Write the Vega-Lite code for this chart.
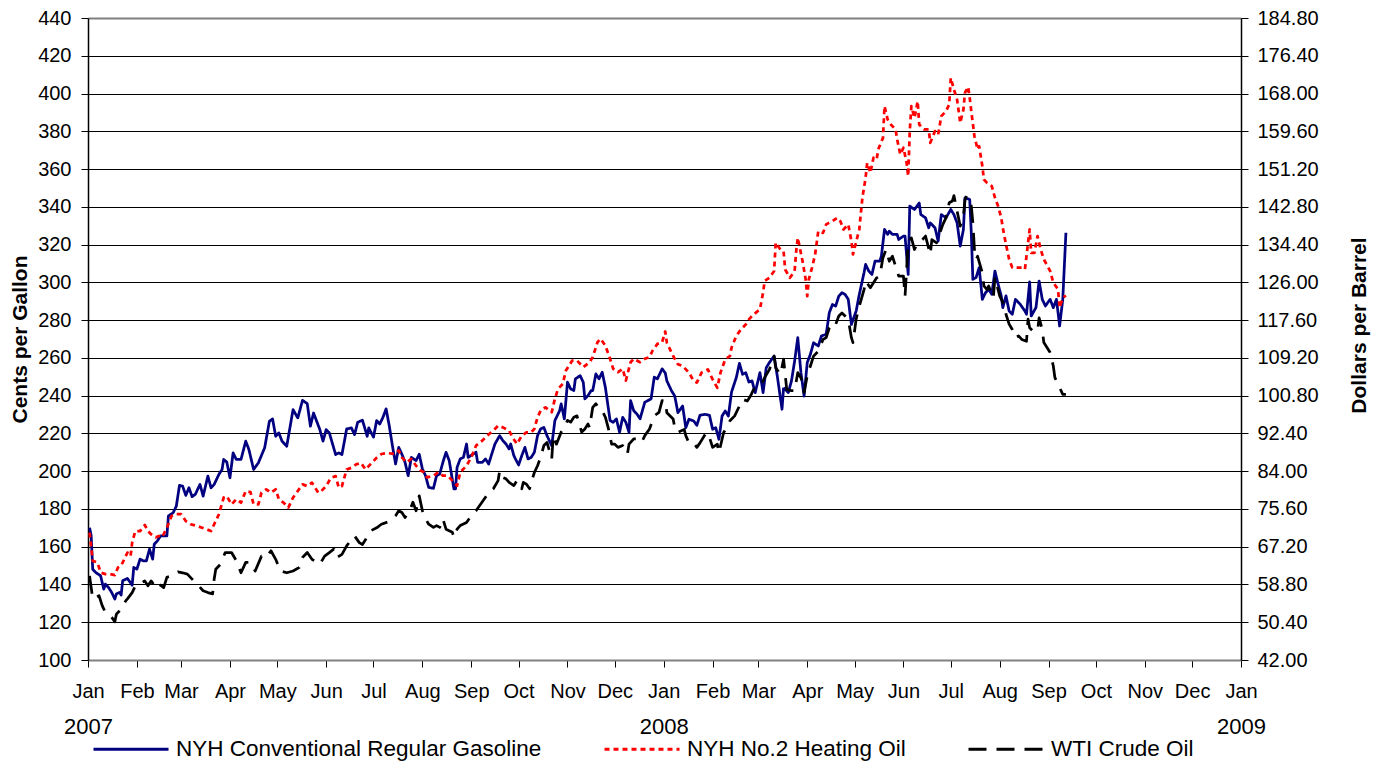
{
"$schema":"https://vega.github.io/schema/vega-lite/v6.json",
"width":1153,"height":642,
"autosize":{"type":"none"},
"padding":{"left":88,"top":18,"right":140,"bottom":104},
"background":"white",
"config":{"font":"Liberation Sans","view":{"stroke":null},
"axis":{"labelFont":"Liberation Sans","titleFont":"Liberation Sans","labelColor":"#000","titleColor":"#000","tickColor":"#000","domainColor":"#000","labelFontSize":20,"titleFontSize":21,"titleFontWeight":"bold"},
"legend":{"labelFont":"Liberation Sans","labelFontSize":22.5,"labelColor":"#000","labelLimit":600,"symbolType":"stroke","symbolSize":5625,"symbolStrokeWidth":3,"columnPadding":56,"labelOffset":6,"padding":0}},
"data":{"values":[
{"d":"2007-01-02","s":"G","v":170},{"d":"2007-01-03","s":"G","v":166},{"d":"2007-01-04","s":"G","v":148},{"d":"2007-01-06","s":"G","v":146.3},{"d":"2007-01-09","s":"G","v":144.6},{"d":"2007-01-11","s":"G","v":137.5},{"d":"2007-01-12","s":"G","v":140.2},{"d":"2007-01-14","s":"G","v":138.4},{"d":"2007-01-16","s":"G","v":135.8},{"d":"2007-01-18","s":"G","v":132.3},{"d":"2007-01-19","s":"G","v":135},{"d":"2007-01-21","s":"G","v":135.8},{"d":"2007-01-22","s":"G","v":134.4},{"d":"2007-01-23","s":"G","v":142},{"d":"2007-01-26","s":"G","v":143.2},{"d":"2007-01-27","s":"G","v":142},{"d":"2007-01-29","s":"G","v":139.6},{"d":"2007-01-30","s":"G","v":149},
{"d":"2007-02-01","s":"G","v":148.1},{"d":"2007-02-03","s":"G","v":153.4},{"d":"2007-02-05","s":"G","v":152.5},{"d":"2007-02-07","s":"G","v":152.5},{"d":"2007-02-09","s":"G","v":158.7},{"d":"2007-02-11","s":"G","v":153.4},{"d":"2007-02-12","s":"G","v":161.3},{"d":"2007-02-14","s":"G","v":163.1},{"d":"2007-02-16","s":"G","v":165.7},{"d":"2007-02-20","s":"G","v":165.7},{"d":"2007-02-21","s":"G","v":176.3},{"d":"2007-02-24","s":"G","v":178},{"d":"2007-02-26","s":"G","v":181.5},{"d":"2007-02-28","s":"G","v":192.5},
{"d":"2007-03-02","s":"G","v":192.1},{"d":"2007-03-04","s":"G","v":187.2},{"d":"2007-03-06","s":"G","v":191.2},{"d":"2007-03-08","s":"G","v":186.5},{"d":"2007-03-10","s":"G","v":187.7},{"d":"2007-03-13","s":"G","v":193},{"d":"2007-03-15","s":"G","v":186.8},{"d":"2007-03-18","s":"G","v":197.4},{"d":"2007-03-20","s":"G","v":191.2},{"d":"2007-03-22","s":"G","v":193},{"d":"2007-03-25","s":"G","v":198.3},{"d":"2007-03-27","s":"G","v":200.9},{"d":"2007-03-28","s":"G","v":206.2},{"d":"2007-03-30","s":"G","v":204.8},
{"d":"2007-04-01","s":"G","v":196.5},{"d":"2007-04-03","s":"G","v":209.7},{"d":"2007-04-05","s":"G","v":206.2},{"d":"2007-04-08","s":"G","v":206.2},{"d":"2007-04-11","s":"G","v":215.9},{"d":"2007-04-13","s":"G","v":211.5},{"d":"2007-04-16","s":"G","v":200.9},{"d":"2007-04-19","s":"G","v":204.4},{"d":"2007-04-23","s":"G","v":212.4},{"d":"2007-04-26","s":"G","v":226.4},{"d":"2007-04-28","s":"G","v":227.7},{"d":"2007-04-30","s":"G","v":218.5},
{"d":"2007-05-02","s":"G","v":220.3},{"d":"2007-05-04","s":"G","v":215.9},{"d":"2007-05-07","s":"G","v":213.2},{"d":"2007-05-11","s":"G","v":232.6},{"d":"2007-05-14","s":"G","v":228.2},{"d":"2007-05-17","s":"G","v":237.5},{"d":"2007-05-20","s":"G","v":235.8},{"d":"2007-05-22","s":"G","v":223.8},{"d":"2007-05-24","s":"G","v":230.8},{"d":"2007-05-28","s":"G","v":222},{"d":"2007-05-30","s":"G","v":215.9},
{"d":"2007-06-01","s":"G","v":222},{"d":"2007-06-03","s":"G","v":220.3},{"d":"2007-06-07","s":"G","v":208.8},{"d":"2007-06-09","s":"G","v":209.7},{"d":"2007-06-11","s":"G","v":208.8},{"d":"2007-06-14","s":"G","v":222.4},{"d":"2007-06-17","s":"G","v":222.9},{"d":"2007-06-19","s":"G","v":219.4},{"d":"2007-06-21","s":"G","v":225.9},{"d":"2007-06-24","s":"G","v":227},{"d":"2007-06-27","s":"G","v":218.5},{"d":"2007-06-28","s":"G","v":222.9},
{"d":"2007-07-01","s":"G","v":218},{"d":"2007-07-03","s":"G","v":226.8},{"d":"2007-07-05","s":"G","v":225},{"d":"2007-07-07","s":"G","v":228.5},{"d":"2007-07-09","s":"G","v":233},{"d":"2007-07-11","s":"G","v":224},{"d":"2007-07-13","s":"G","v":213.5},{"d":"2007-07-15","s":"G","v":203.8},{"d":"2007-07-17","s":"G","v":212.6},{"d":"2007-07-19","s":"G","v":209},{"d":"2007-07-21","s":"G","v":204.7},{"d":"2007-07-23","s":"G","v":197.6},{"d":"2007-07-25","s":"G","v":207.3},{"d":"2007-07-28","s":"G","v":205.6},{"d":"2007-07-30","s":"G","v":209},
{"d":"2007-08-01","s":"G","v":201.2},{"d":"2007-08-03","s":"G","v":197.6},{"d":"2007-08-05","s":"G","v":191.4},{"d":"2007-08-08","s":"G","v":190.9},{"d":"2007-08-10","s":"G","v":197.6},{"d":"2007-08-12","s":"G","v":198.5},{"d":"2007-08-14","s":"G","v":204.7},{"d":"2007-08-16","s":"G","v":210},{"d":"2007-08-18","s":"G","v":205.6},{"d":"2007-08-21","s":"G","v":190.6},{"d":"2007-08-22","s":"G","v":190.6},{"d":"2007-08-23","s":"G","v":202},{"d":"2007-08-25","s":"G","v":206.5},{"d":"2007-08-27","s":"G","v":207.3},{"d":"2007-08-29","s":"G","v":214.4},{"d":"2007-08-30","s":"G","v":207.3},
{"d":"2007-09-02","s":"G","v":209},{"d":"2007-09-04","s":"G","v":210},{"d":"2007-09-05","s":"G","v":204.7},{"d":"2007-09-08","s":"G","v":204.7},{"d":"2007-09-10","s":"G","v":206.5},{"d":"2007-09-12","s":"G","v":203.8},{"d":"2007-09-15","s":"G","v":211.8},{"d":"2007-09-16","s":"G","v":214.4},{"d":"2007-09-19","s":"G","v":218.8},{"d":"2007-09-21","s":"G","v":216.2},{"d":"2007-09-23","s":"G","v":214.4},{"d":"2007-09-25","s":"G","v":211.8},{"d":"2007-09-26","s":"G","v":214.4},{"d":"2007-09-28","s":"G","v":208.2},{"d":"2007-09-29","s":"G","v":206.5},
{"d":"2007-10-01","s":"G","v":203.3},{"d":"2007-10-03","s":"G","v":208.2},{"d":"2007-10-05","s":"G","v":212.6},{"d":"2007-10-07","s":"G","v":206.5},{"d":"2007-10-09","s":"G","v":207.3},{"d":"2007-10-11","s":"G","v":210},{"d":"2007-10-13","s":"G","v":218.8},{"d":"2007-10-15","s":"G","v":222.4},{"d":"2007-10-17","s":"G","v":223.2},{"d":"2007-10-19","s":"G","v":218.8},{"d":"2007-10-22","s":"G","v":213.5},{"d":"2007-10-24","s":"G","v":226.8},{"d":"2007-10-27","s":"G","v":232},{"d":"2007-10-28","s":"G","v":235.6},{"d":"2007-10-30","s":"G","v":227.7},
{"d":"2007-11-01","s":"G","v":247.1},{"d":"2007-11-03","s":"G","v":243.6},{"d":"2007-11-05","s":"G","v":242.7},{"d":"2007-11-06","s":"G","v":248.9},{"d":"2007-11-09","s":"G","v":250.6},{"d":"2007-11-11","s":"G","v":247.1},{"d":"2007-11-12","s":"G","v":238.3},{"d":"2007-11-14","s":"G","v":240},{"d":"2007-11-16","s":"G","v":242.7},{"d":"2007-11-17","s":"G","v":242.7},{"d":"2007-11-19","s":"G","v":251.5},{"d":"2007-11-21","s":"G","v":248.9},{"d":"2007-11-23","s":"G","v":252.4},{"d":"2007-11-25","s":"G","v":244.4},{"d":"2007-11-28","s":"G","v":226.8},{"d":"2007-11-30","s":"G","v":225.9},
{"d":"2007-12-02","s":"G","v":227.7},{"d":"2007-12-04","s":"G","v":220.6},{"d":"2007-12-06","s":"G","v":228.5},{"d":"2007-12-08","s":"G","v":225.9},{"d":"2007-12-10","s":"G","v":220.6},{"d":"2007-12-11","s":"G","v":237.4},{"d":"2007-12-13","s":"G","v":232},{"d":"2007-12-15","s":"G","v":230.3},{"d":"2007-12-17","s":"G","v":227.7},{"d":"2007-12-20","s":"G","v":236.5},{"d":"2007-12-22","s":"G","v":237.4},{"d":"2007-12-24","s":"G","v":238.3},{"d":"2007-12-26","s":"G","v":249.8},{"d":"2007-12-28","s":"G","v":248.9},{"d":"2007-12-31","s":"G","v":254.2},
{"d":"2008-01-02","s":"G","v":252},{"d":"2008-01-03","s":"G","v":247.8},{"d":"2008-01-06","s":"G","v":242.5},{"d":"2008-01-08","s":"G","v":239.8},{"d":"2008-01-10","s":"G","v":231},{"d":"2008-01-13","s":"G","v":234.5},{"d":"2008-01-15","s":"G","v":223},{"d":"2008-01-17","s":"G","v":227.5},{"d":"2008-01-20","s":"G","v":226.6},{"d":"2008-01-22","s":"G","v":224.3},{"d":"2008-01-24","s":"G","v":229.6},{"d":"2008-01-27","s":"G","v":230.1},{"d":"2008-01-30","s":"G","v":229.6},
{"d":"2008-02-01","s":"G","v":222.2},{"d":"2008-02-03","s":"G","v":223},{"d":"2008-02-05","s":"G","v":216.9},{"d":"2008-02-07","s":"G","v":229.2},{"d":"2008-02-09","s":"G","v":231.9},{"d":"2008-02-11","s":"G","v":229.2},{"d":"2008-02-13","s":"G","v":241.9},{"d":"2008-02-16","s":"G","v":249.5},{"d":"2008-02-18","s":"G","v":257.1},{"d":"2008-02-20","s":"G","v":251.3},{"d":"2008-02-22","s":"G","v":252.2},{"d":"2008-02-24","s":"G","v":247.2},{"d":"2008-02-26","s":"G","v":247.8},{"d":"2008-02-28","s":"G","v":241.6},
{"d":"2008-03-02","s":"G","v":252.2},{"d":"2008-03-04","s":"G","v":241.6},{"d":"2008-03-06","s":"G","v":254.8},{"d":"2008-03-08","s":"G","v":257.5},{"d":"2008-03-11","s":"G","v":261},{"d":"2008-03-13","s":"G","v":250.4},{"d":"2008-03-16","s":"G","v":232.8},{"d":"2008-03-17","s":"G","v":244.2},{"d":"2008-03-20","s":"G","v":241.6},{"d":"2008-03-22","s":"G","v":247.8},{"d":"2008-03-24","s":"G","v":258.3},{"d":"2008-03-26","s":"G","v":270.7},{"d":"2008-03-28","s":"G","v":252.2},{"d":"2008-03-30","s":"G","v":239.8},
{"d":"2008-04-01","s":"G","v":257.5},{"d":"2008-04-03","s":"G","v":261.9},{"d":"2008-04-05","s":"G","v":268},{"d":"2008-04-08","s":"G","v":266.3},{"d":"2008-04-10","s":"G","v":271.6},{"d":"2008-04-13","s":"G","v":272.5},{"d":"2008-04-15","s":"G","v":284},{"d":"2008-04-17","s":"G","v":288.3},{"d":"2008-04-19","s":"G","v":287.4},{"d":"2008-04-21","s":"G","v":292.7},{"d":"2008-04-23","s":"G","v":294.5},{"d":"2008-04-25","s":"G","v":293.6},{"d":"2008-04-27","s":"G","v":291},{"d":"2008-04-29","s":"G","v":277.7},
{"d":"2008-05-02","s":"G","v":284.8},{"d":"2008-05-04","s":"G","v":293.6},{"d":"2008-05-07","s":"G","v":305.1},{"d":"2008-05-08","s":"G","v":309.5},{"d":"2008-05-10","s":"G","v":306},{"d":"2008-05-12","s":"G","v":304.2},{"d":"2008-05-14","s":"G","v":311.3},{"d":"2008-05-17","s":"G","v":311.3},{"d":"2008-05-18","s":"G","v":313.9},{"d":"2008-05-20","s":"G","v":328},{"d":"2008-05-22","s":"G","v":325.4},{"d":"2008-05-23","s":"G","v":327.1},{"d":"2008-05-25","s":"G","v":325.4},{"d":"2008-05-28","s":"G","v":325.4},{"d":"2008-05-29","s":"G","v":322.7},
{"d":"2008-06-01","s":"G","v":324.5},{"d":"2008-06-02","s":"G","v":324.5},{"d":"2008-06-04","s":"G","v":304.2},{"d":"2008-06-05","s":"G","v":340.4},{"d":"2008-06-08","s":"G","v":338.6},{"d":"2008-06-11","s":"G","v":342},{"d":"2008-06-12","s":"G","v":335.9},{"d":"2008-06-15","s":"G","v":334.2},{"d":"2008-06-17","s":"G","v":328.9},{"d":"2008-06-18","s":"G","v":331.5},{"d":"2008-06-21","s":"G","v":328.9},{"d":"2008-06-23","s":"G","v":321.8},{"d":"2008-06-25","s":"G","v":335.9},{"d":"2008-06-28","s":"G","v":334.2},
{"d":"2008-07-01","s":"G","v":338.6},{"d":"2008-07-03","s":"G","v":335.9},{"d":"2008-07-05","s":"G","v":331.5},{"d":"2008-07-07","s":"G","v":319.2},{"d":"2008-07-09","s":"G","v":328},{"d":"2008-07-10","s":"G","v":344.8},{"d":"2008-07-13","s":"G","v":343.9},{"d":"2008-07-14","s":"G","v":326.3},{"d":"2008-07-15","s":"G","v":301.6},{"d":"2008-07-17","s":"G","v":302.5},{"d":"2008-07-19","s":"G","v":307.8},{"d":"2008-07-21","s":"G","v":291},{"d":"2008-07-23","s":"G","v":294.5},{"d":"2008-07-25","s":"G","v":296.3},{"d":"2008-07-27","s":"G","v":293.7},{"d":"2008-07-29","s":"G","v":306},{"d":"2008-07-31","s":"G","v":299},
{"d":"2008-08-02","s":"G","v":292.8},{"d":"2008-08-03","s":"G","v":286.6},{"d":"2008-08-05","s":"G","v":292.8},{"d":"2008-08-07","s":"G","v":284.8},{"d":"2008-08-09","s":"G","v":283.1},{"d":"2008-08-11","s":"G","v":291},{"d":"2008-08-14","s":"G","v":288.4},{"d":"2008-08-17","s":"G","v":284.8},{"d":"2008-08-18","s":"G","v":283.1},{"d":"2008-08-20","s":"G","v":300.2},{"d":"2008-08-21","s":"G","v":282.2},{"d":"2008-08-24","s":"G","v":286.6},{"d":"2008-08-26","s":"G","v":300.7},{"d":"2008-08-28","s":"G","v":291},{"d":"2008-08-30","s":"G","v":287.5},
{"d":"2008-09-02","s":"G","v":291},{"d":"2008-09-04","s":"G","v":286.6},{"d":"2008-09-06","s":"G","v":291},{"d":"2008-09-08","s":"G","v":276.9},{"d":"2008-09-10","s":"G","v":291},{"d":"2008-09-12","s":"G","v":326.3},

{"d":"2007-01-02","s":"H","v":167.5},{"d":"2007-01-04","s":"H","v":152.5},{"d":"2007-01-07","s":"H","v":151.6},{"d":"2007-01-09","s":"H","v":146.3},{"d":"2007-01-12","s":"H","v":145.5},{"d":"2007-01-15","s":"H","v":145.5},{"d":"2007-01-18","s":"H","v":145},{"d":"2007-01-20","s":"H","v":149},{"d":"2007-01-22","s":"H","v":149.9},{"d":"2007-01-26","s":"H","v":156.9},{"d":"2007-01-28","s":"H","v":155.1},{"d":"2007-01-29","s":"H","v":162.2},{"d":"2007-01-31","s":"H","v":168.3},
{"d":"2007-02-03","s":"H","v":168.3},{"d":"2007-02-06","s":"H","v":171.5},{"d":"2007-02-08","s":"H","v":168.3},{"d":"2007-02-10","s":"H","v":166.6},{"d":"2007-02-13","s":"H","v":165},{"d":"2007-02-15","s":"H","v":165.7},{"d":"2007-02-17","s":"H","v":165},{"d":"2007-02-20","s":"H","v":170},{"d":"2007-02-23","s":"H","v":176.3},{"d":"2007-02-26","s":"H","v":177.2},
{"d":"2007-03-01","s":"H","v":177.2},{"d":"2007-03-04","s":"H","v":173.6},{"d":"2007-03-07","s":"H","v":171.9},{"d":"2007-03-11","s":"H","v":171},{"d":"2007-03-16","s":"H","v":169.6},{"d":"2007-03-20","s":"H","v":168.3},{"d":"2007-03-22","s":"H","v":171.9},{"d":"2007-03-25","s":"H","v":177.2},{"d":"2007-03-28","s":"H","v":186},{"d":"2007-03-30","s":"H","v":186.8},
{"d":"2007-04-02","s":"H","v":182.4},{"d":"2007-04-05","s":"H","v":185.1},{"d":"2007-04-08","s":"H","v":183.3},{"d":"2007-04-11","s":"H","v":189.5},{"d":"2007-04-14","s":"H","v":188.9},{"d":"2007-04-16","s":"H","v":182.4},{"d":"2007-04-19","s":"H","v":182.4},{"d":"2007-04-21","s":"H","v":188.6},{"d":"2007-04-24","s":"H","v":190.4},{"d":"2007-04-27","s":"H","v":188.6},{"d":"2007-04-30","s":"H","v":190.4},
{"d":"2007-05-02","s":"H","v":185.1},{"d":"2007-05-05","s":"H","v":183.3},{"d":"2007-05-08","s":"H","v":180.7},{"d":"2007-05-11","s":"H","v":186},{"d":"2007-05-14","s":"H","v":189.5},{"d":"2007-05-17","s":"H","v":193},{"d":"2007-05-20","s":"H","v":192.1},{"d":"2007-05-23","s":"H","v":193.9},{"d":"2007-05-27","s":"H","v":188.6},{"d":"2007-05-29","s":"H","v":189.5},
{"d":"2007-06-01","s":"H","v":192.1},{"d":"2007-06-04","s":"H","v":196.5},{"d":"2007-06-07","s":"H","v":197.4},{"d":"2007-06-09","s":"H","v":191.2},{"d":"2007-06-11","s":"H","v":192.1},{"d":"2007-06-14","s":"H","v":200.9},{"d":"2007-06-17","s":"H","v":201.8},{"d":"2007-06-20","s":"H","v":203.6},{"d":"2007-06-23","s":"H","v":204.4},{"d":"2007-06-26","s":"H","v":200.9},{"d":"2007-06-29","s":"H","v":203.6},
{"d":"2007-07-03","s":"H","v":207.1},{"d":"2007-07-06","s":"H","v":209.1},{"d":"2007-07-10","s":"H","v":209.6},{"d":"2007-07-14","s":"H","v":209.1},{"d":"2007-07-17","s":"H","v":210.9},{"d":"2007-07-19","s":"H","v":207.3},{"d":"2007-07-22","s":"H","v":204.7},{"d":"2007-07-25","s":"H","v":206.5},{"d":"2007-07-28","s":"H","v":202.9},{"d":"2007-07-31","s":"H","v":200.3},
{"d":"2007-08-02","s":"H","v":199.4},{"d":"2007-08-04","s":"H","v":196.7},{"d":"2007-08-08","s":"H","v":197.6},{"d":"2007-08-11","s":"H","v":199.4},{"d":"2007-08-14","s":"H","v":197.6},{"d":"2007-08-17","s":"H","v":197.6},{"d":"2007-08-20","s":"H","v":195},{"d":"2007-08-23","s":"H","v":192.3},{"d":"2007-08-25","s":"H","v":199.4},{"d":"2007-08-29","s":"H","v":202.9},
{"d":"2007-09-01","s":"H","v":207.3},{"d":"2007-09-04","s":"H","v":213.5},{"d":"2007-09-08","s":"H","v":216.2},{"d":"2007-09-11","s":"H","v":218.8},{"d":"2007-09-15","s":"H","v":221.5},{"d":"2007-09-18","s":"H","v":224.1},{"d":"2007-09-21","s":"H","v":223.2},{"d":"2007-09-25","s":"H","v":221.5},{"d":"2007-09-27","s":"H","v":218},{"d":"2007-09-30","s":"H","v":214.4},
{"d":"2007-10-03","s":"H","v":218.8},{"d":"2007-10-06","s":"H","v":220.6},{"d":"2007-10-09","s":"H","v":220.6},{"d":"2007-10-11","s":"H","v":222.4},{"d":"2007-10-13","s":"H","v":228.5},{"d":"2007-10-15","s":"H","v":232.1},{"d":"2007-10-18","s":"H","v":233.8},{"d":"2007-10-22","s":"H","v":231.2},{"d":"2007-10-24","s":"H","v":238.3},{"d":"2007-10-26","s":"H","v":243.6},{"d":"2007-10-29","s":"H","v":246.2},{"d":"2007-10-31","s":"H","v":253.3},
{"d":"2007-11-02","s":"H","v":255.9},{"d":"2007-11-04","s":"H","v":258.6},{"d":"2007-11-07","s":"H","v":258.6},{"d":"2007-11-11","s":"H","v":255.1},{"d":"2007-11-15","s":"H","v":257.7},{"d":"2007-11-17","s":"H","v":260.4},{"d":"2007-11-20","s":"H","v":268.3},{"d":"2007-11-22","s":"H","v":270.1},{"d":"2007-11-25","s":"H","v":266.5},{"d":"2007-11-28","s":"H","v":259.5},{"d":"2007-11-30","s":"H","v":254.2},
{"d":"2007-12-03","s":"H","v":252.4},{"d":"2007-12-06","s":"H","v":254.2},{"d":"2007-12-08","s":"H","v":248},{"d":"2007-12-11","s":"H","v":257.7},{"d":"2007-12-13","s":"H","v":259.5},{"d":"2007-12-17","s":"H","v":257.7},{"d":"2007-12-20","s":"H","v":259.5},{"d":"2007-12-23","s":"H","v":260.4},{"d":"2007-12-25","s":"H","v":263.9},{"d":"2007-12-28","s":"H","v":267.4},{"d":"2007-12-31","s":"H","v":268.3},
{"d":"2008-01-02","s":"H","v":274},{"d":"2008-01-03","s":"H","v":268},{"d":"2008-01-07","s":"H","v":261},{"d":"2008-01-10","s":"H","v":256.6},{"d":"2008-01-13","s":"H","v":255.7},{"d":"2008-01-17","s":"H","v":252.2},{"d":"2008-01-20","s":"H","v":247.8},{"d":"2008-01-22","s":"H","v":246.9},{"d":"2008-01-25","s":"H","v":252.2},{"d":"2008-01-29","s":"H","v":253.9},
{"d":"2008-02-01","s":"H","v":248.6},{"d":"2008-02-04","s":"H","v":244.2},{"d":"2008-02-06","s":"H","v":252.2},{"d":"2008-02-09","s":"H","v":259.2},{"d":"2008-02-12","s":"H","v":261},{"d":"2008-02-13","s":"H","v":265.4},{"d":"2008-02-16","s":"H","v":271.6},{"d":"2008-02-19","s":"H","v":275.1},{"d":"2008-02-22","s":"H","v":277.7},{"d":"2008-02-24","s":"H","v":280.4},{"d":"2008-02-27","s":"H","v":283},
{"d":"2008-03-02","s":"H","v":285.7},{"d":"2008-03-04","s":"H","v":294.5},{"d":"2008-03-05","s":"H","v":300.7},{"d":"2008-03-08","s":"H","v":302.4},{"d":"2008-03-11","s":"H","v":306},{"d":"2008-03-12","s":"H","v":321},{"d":"2008-03-15","s":"H","v":317.4},{"d":"2008-03-17","s":"H","v":316.5},{"d":"2008-03-18","s":"H","v":306.8},{"d":"2008-03-21","s":"H","v":302.4},{"d":"2008-03-24","s":"H","v":306},{"d":"2008-03-25","s":"H","v":316.5},{"d":"2008-03-26","s":"H","v":323.6},{"d":"2008-03-29","s":"H","v":311.3},{"d":"2008-03-31","s":"H","v":301.6},
{"d":"2008-04-01","s":"H","v":292.7},{"d":"2008-04-02","s":"H","v":301.6},{"d":"2008-04-04","s":"H","v":307.7},{"d":"2008-04-06","s":"H","v":314.8},{"d":"2008-04-08","s":"H","v":327.1},{"d":"2008-04-11","s":"H","v":326.2},{"d":"2008-04-13","s":"H","v":330.7},{"d":"2008-04-17","s":"H","v":332.4},{"d":"2008-04-20","s":"H","v":334.2},{"d":"2008-04-22","s":"H","v":332.4},{"d":"2008-04-24","s":"H","v":328},{"d":"2008-04-27","s":"H","v":330.7},{"d":"2008-04-29","s":"H","v":321.8},{"d":"2008-04-30","s":"H","v":314.8},
{"d":"2008-05-04","s":"H","v":328},{"d":"2008-05-05","s":"H","v":336.8},{"d":"2008-05-06","s":"H","v":345},{"d":"2008-05-08","s":"H","v":355.4},{"d":"2008-05-09","s":"H","v":363.3},{"d":"2008-05-11","s":"H","v":358},{"d":"2008-05-13","s":"H","v":366},{"d":"2008-05-15","s":"H","v":365.1},{"d":"2008-05-16","s":"H","v":370.4},{"d":"2008-05-19","s":"H","v":376.5},{"d":"2008-05-20","s":"H","v":393.3},{"d":"2008-05-22","s":"H","v":386.2},{"d":"2008-05-24","s":"H","v":383.6},{"d":"2008-05-27","s":"H","v":381},{"d":"2008-05-28","s":"H","v":375.7},{"d":"2008-05-30","s":"H","v":367.7},
{"d":"2008-06-01","s":"H","v":371.3},{"d":"2008-06-03","s":"H","v":363.3},{"d":"2008-06-04","s":"H","v":356.3},{"d":"2008-06-05","s":"H","v":380.1},{"d":"2008-06-06","s":"H","v":393.3},{"d":"2008-06-08","s":"H","v":387.1},{"d":"2008-06-10","s":"H","v":395.9},{"d":"2008-06-11","s":"H","v":383.6},{"d":"2008-06-14","s":"H","v":381},{"d":"2008-06-17","s":"H","v":381},{"d":"2008-06-18","s":"H","v":373.9},{"d":"2008-06-21","s":"H","v":380.1},{"d":"2008-06-23","s":"H","v":378.3},{"d":"2008-06-25","s":"H","v":388},{"d":"2008-06-28","s":"H","v":390.7},{"d":"2008-06-30","s":"H","v":394.2},
{"d":"2008-07-01","s":"H","v":408.3},{"d":"2008-07-03","s":"H","v":402.1},{"d":"2008-07-05","s":"H","v":396.8},{"d":"2008-07-07","s":"H","v":384.5},{"d":"2008-07-09","s":"H","v":391.5},{"d":"2008-07-10","s":"H","v":400.4},{"d":"2008-07-12","s":"H","v":403.5},{"d":"2008-07-13","s":"H","v":397.7},{"d":"2008-07-14","s":"H","v":390.7},{"d":"2008-07-16","s":"H","v":377.4},{"d":"2008-07-18","s":"H","v":370.4},{"d":"2008-07-19","s":"H","v":372.1},{"d":"2008-07-21","s":"H","v":361.6},{"d":"2008-07-22","s":"H","v":354.5},{"d":"2008-07-24","s":"H","v":352.7},{"d":"2008-07-27","s":"H","v":351},{"d":"2008-07-29","s":"H","v":344.8},{"d":"2008-07-31","s":"H","v":340.4},
{"d":"2008-08-02","s":"H","v":334.2},{"d":"2008-08-03","s":"H","v":328.9},{"d":"2008-08-05","s":"H","v":320.1},{"d":"2008-08-07","s":"H","v":312.2},{"d":"2008-08-09","s":"H","v":307.8},{"d":"2008-08-12","s":"H","v":307.8},{"d":"2008-08-15","s":"H","v":307.8},{"d":"2008-08-17","s":"H","v":306.9},{"d":"2008-08-18","s":"H","v":313.9},{"d":"2008-08-20","s":"H","v":328},{"d":"2008-08-21","s":"H","v":315.6},{"d":"2008-08-23","s":"H","v":315.6},{"d":"2008-08-25","s":"H","v":324.5},{"d":"2008-08-27","s":"H","v":317.5},{"d":"2008-08-29","s":"H","v":312.2},
{"d":"2008-09-02","s":"H","v":306},{"d":"2008-09-04","s":"H","v":299.8},{"d":"2008-09-07","s":"H","v":296.3},{"d":"2008-09-08","s":"H","v":286.6},{"d":"2008-09-10","s":"H","v":291.9},{"d":"2008-09-12","s":"H","v":293},

{"d":"2007-01-02","s":"W","v":60.7},{"d":"2007-01-04","s":"W","v":55.6},{"d":"2007-01-08","s":"W","v":56.3},{"d":"2007-01-10","s":"W","v":54.1},{"d":"2007-01-12","s":"W","v":52.6},{"d":"2007-01-16","s":"W","v":51.5},{"d":"2007-01-18","s":"W","v":50.5},{"d":"2007-01-19","s":"W","v":52.2},{"d":"2007-01-22","s":"W","v":53.3},{"d":"2007-01-25","s":"W","v":55.2},{"d":"2007-01-26","s":"W","v":55.6},{"d":"2007-01-29","s":"W","v":57},{"d":"2007-01-31","s":"W","v":58.5},
{"d":"2007-02-02","s":"W","v":58.9},{"d":"2007-02-06","s":"W","v":59.6},{"d":"2007-02-08","s":"W","v":58.5},{"d":"2007-02-10","s":"W","v":59.6},{"d":"2007-02-13","s":"W","v":58.1},{"d":"2007-02-15","s":"W","v":58.9},{"d":"2007-02-18","s":"W","v":58.1},{"d":"2007-02-20","s":"W","v":60.4},{"d":"2007-02-23","s":"W","v":60.7},{"d":"2007-02-27","s":"W","v":61.6},
{"d":"2007-03-02","s":"W","v":61.4},{"d":"2007-03-05","s":"W","v":61.1},{"d":"2007-03-08","s":"W","v":60},{"d":"2007-03-11","s":"W","v":58.9},{"d":"2007-03-15","s":"W","v":57.4},{"d":"2007-03-18","s":"W","v":57},{"d":"2007-03-21","s":"W","v":56.7},{"d":"2007-03-22","s":"W","v":60},{"d":"2007-03-23","s":"W","v":62.2},{"d":"2007-03-26","s":"W","v":63.3},{"d":"2007-03-29","s":"W","v":65.9},
{"d":"2007-04-02","s":"W","v":65.9},{"d":"2007-04-05","s":"W","v":64.1},{"d":"2007-04-08","s":"W","v":61.4},{"d":"2007-04-11","s":"W","v":63.7},{"d":"2007-04-14","s":"W","v":63.7},{"d":"2007-04-17","s":"W","v":61.8},{"d":"2007-04-21","s":"W","v":65.1},{"d":"2007-04-24","s":"W","v":64.8},{"d":"2007-04-27","s":"W","v":66.3},{"d":"2007-04-30","s":"W","v":64.4},
{"d":"2007-05-03","s":"W","v":61.8},{"d":"2007-05-07","s":"W","v":61.4},{"d":"2007-05-11","s":"W","v":61.8},{"d":"2007-05-15","s":"W","v":62.6},{"d":"2007-05-17","s":"W","v":64.8},{"d":"2007-05-20","s":"W","v":65.9},{"d":"2007-05-23","s":"W","v":64.4},{"d":"2007-05-28","s":"W","v":63.3},{"d":"2007-05-31","s":"W","v":65.1},
{"d":"2007-06-03","s":"W","v":65.9},{"d":"2007-06-06","s":"W","v":66.7},{"d":"2007-06-08","s":"W","v":64.8},{"d":"2007-06-11","s":"W","v":65.5},{"d":"2007-06-14","s":"W","v":67.4},{"d":"2007-06-17","s":"W","v":68.8},{"d":"2007-06-19","s":"W","v":69.6},{"d":"2007-06-22","s":"W","v":68.1},{"d":"2007-06-24","s":"W","v":67.7},{"d":"2007-06-26","s":"W","v":68.8},{"d":"2007-06-29","s":"W","v":70.7},
{"d":"2007-07-03","s":"W","v":71.4},{"d":"2007-07-06","s":"W","v":72.2},{"d":"2007-07-10","s":"W","v":72.7},{"d":"2007-07-13","s":"W","v":73.4},{"d":"2007-07-15","s":"W","v":74.1},{"d":"2007-07-17","s":"W","v":75.2},{"d":"2007-07-19","s":"W","v":74.8},{"d":"2007-07-21","s":"W","v":73.7},{"d":"2007-07-24","s":"W","v":75.2},{"d":"2007-07-26","s":"W","v":77.1},{"d":"2007-07-28","s":"W","v":75.2},{"d":"2007-07-30","s":"W","v":78.5},
{"d":"2007-08-01","s":"W","v":75.2},{"d":"2007-08-03","s":"W","v":73.4},{"d":"2007-08-05","s":"W","v":72.2},{"d":"2007-08-08","s":"W","v":71.5},{"d":"2007-08-10","s":"W","v":71.9},{"d":"2007-08-12","s":"W","v":71.5},{"d":"2007-08-14","s":"W","v":73.4},{"d":"2007-08-16","s":"W","v":71.1},{"d":"2007-08-20","s":"W","v":70.4},{"d":"2007-08-21","s":"W","v":69.3},{"d":"2007-08-23","s":"W","v":71.1},{"d":"2007-08-25","s":"W","v":71.9},{"d":"2007-08-29","s":"W","v":72.6},
{"d":"2007-09-01","s":"W","v":74.1},{"d":"2007-09-04","s":"W","v":75.2},{"d":"2007-09-07","s":"W","v":76.7},{"d":"2007-09-10","s":"W","v":78.2},{"d":"2007-09-12","s":"W","v":79.3},{"d":"2007-09-15","s":"W","v":80.1},{"d":"2007-09-18","s":"W","v":81.9},{"d":"2007-09-19","s":"W","v":84.1},{"d":"2007-09-21","s":"W","v":82.6},{"d":"2007-09-23","s":"W","v":82.3},{"d":"2007-09-25","s":"W","v":81.5},{"d":"2007-09-28","s":"W","v":80.8},{"d":"2007-09-30","s":"W","v":81.9},
{"d":"2007-10-03","s":"W","v":80.1},{"d":"2007-10-04","s":"W","v":81.5},{"d":"2007-10-06","s":"W","v":81.1},{"d":"2007-10-08","s":"W","v":80.1},{"d":"2007-10-09","s":"W","v":81.5},{"d":"2007-10-11","s":"W","v":83.7},{"d":"2007-10-13","s":"W","v":85.2},{"d":"2007-10-15","s":"W","v":87.1},{"d":"2007-10-17","s":"W","v":89.7},{"d":"2007-10-19","s":"W","v":90.4},{"d":"2007-10-22","s":"W","v":86.7},{"d":"2007-10-23","s":"W","v":91.9},{"d":"2007-10-25","s":"W","v":90},{"d":"2007-10-28","s":"W","v":92.7},{"d":"2007-10-30","s":"W","v":93.7},
{"d":"2007-11-01","s":"W","v":95.3},{"d":"2007-11-03","s":"W","v":94.9},{"d":"2007-11-05","s":"W","v":96},{"d":"2007-11-07","s":"W","v":96.3},{"d":"2007-11-10","s":"W","v":92.7},{"d":"2007-11-12","s":"W","v":93.4},{"d":"2007-11-14","s":"W","v":94.5},{"d":"2007-11-15","s":"W","v":93.7},{"d":"2007-11-17","s":"W","v":98.2},{"d":"2007-11-19","s":"W","v":99},{"d":"2007-11-21","s":"W","v":97.9},{"d":"2007-11-23","s":"W","v":97.5},{"d":"2007-11-25","s":"W","v":96},{"d":"2007-11-27","s":"W","v":93.4},{"d":"2007-11-29","s":"W","v":90},
{"d":"2007-12-01","s":"W","v":90},{"d":"2007-12-03","s":"W","v":89.3},{"d":"2007-12-06","s":"W","v":89.7},{"d":"2007-12-09","s":"W","v":87.8},{"d":"2007-12-10","s":"W","v":90},{"d":"2007-12-13","s":"W","v":91.2},{"d":"2007-12-15","s":"W","v":91.2},{"d":"2007-12-18","s":"W","v":90.4},{"d":"2007-12-20","s":"W","v":91.9},{"d":"2007-12-23","s":"W","v":93.4},{"d":"2007-12-26","s":"W","v":96.3},{"d":"2007-12-29","s":"W","v":97.1},{"d":"2007-12-31","s":"W","v":99.7},
{"d":"2008-01-02","s":"W","v":99.6},{"d":"2008-01-03","s":"W","v":97},{"d":"2008-01-07","s":"W","v":95.6},{"d":"2008-01-08","s":"W","v":93.7},{"d":"2008-01-10","s":"W","v":92.6},{"d":"2008-01-14","s":"W","v":93.3},{"d":"2008-01-15","s":"W","v":91.9},{"d":"2008-01-17","s":"W","v":90.3},{"d":"2008-01-20","s":"W","v":90.3},{"d":"2008-01-22","s":"W","v":89.3},{"d":"2008-01-24","s":"W","v":90.3},{"d":"2008-01-28","s":"W","v":92.6},{"d":"2008-01-30","s":"W","v":91.5},
{"d":"2008-02-01","s":"W","v":89.3},{"d":"2008-02-04","s":"W","v":90},{"d":"2008-02-05","s":"W","v":88.1},{"d":"2008-02-08","s":"W","v":92.6},{"d":"2008-02-10","s":"W","v":93.7},{"d":"2008-02-12","s":"W","v":95.2},{"d":"2008-02-15","s":"W","v":96.3},{"d":"2008-02-18","s":"W","v":98.5},{"d":"2008-02-20","s":"W","v":100},{"d":"2008-02-23","s":"W","v":99.6},{"d":"2008-02-25","s":"W","v":100.7},{"d":"2008-02-27","s":"W","v":102.2},
{"d":"2008-03-01","s":"W","v":102.6},{"d":"2008-03-03","s":"W","v":103.3},{"d":"2008-03-05","s":"W","v":104.8},{"d":"2008-03-08","s":"W","v":106.6},{"d":"2008-03-11","s":"W","v":109.6},{"d":"2008-03-12","s":"W","v":107},{"d":"2008-03-15","s":"W","v":105.5},{"d":"2008-03-17","s":"W","v":108.9},{"d":"2008-03-19","s":"W","v":102.2},{"d":"2008-03-22","s":"W","v":101.9},{"d":"2008-03-24","s":"W","v":101.9},{"d":"2008-03-26","s":"W","v":105.9},{"d":"2008-03-28","s":"W","v":104.8},{"d":"2008-03-30","s":"W","v":101.5},
{"d":"2008-04-01","s":"W","v":105.2},{"d":"2008-04-03","s":"W","v":107.4},{"d":"2008-04-05","s":"W","v":109.6},{"d":"2008-04-08","s":"W","v":110.7},{"d":"2008-04-11","s":"W","v":113.3},{"d":"2008-04-13","s":"W","v":113.7},{"d":"2008-04-15","s":"W","v":115.9},{"d":"2008-04-17","s":"W","v":117},{"d":"2008-04-19","s":"W","v":116.6},{"d":"2008-04-21","s":"W","v":118.5},{"d":"2008-04-23","s":"W","v":119.2},{"d":"2008-04-25","s":"W","v":118.5},{"d":"2008-04-27","s":"W","v":117.8},{"d":"2008-04-29","s":"W","v":113.7},{"d":"2008-04-30","s":"W","v":112.6},
{"d":"2008-05-02","s":"W","v":117.8},{"d":"2008-05-04","s":"W","v":120.7},{"d":"2008-05-07","s":"W","v":124.4},{"d":"2008-05-08","s":"W","v":126.3},{"d":"2008-05-11","s":"W","v":124.8},{"d":"2008-05-13","s":"W","v":125.9},{"d":"2008-05-15","s":"W","v":127},{"d":"2008-05-17","s":"W","v":127.4},{"d":"2008-05-19","s":"W","v":131.5},{"d":"2008-05-21","s":"W","v":133.3},{"d":"2008-05-23","s":"W","v":130.7},{"d":"2008-05-25","s":"W","v":131.8},{"d":"2008-05-27","s":"W","v":129.6},{"d":"2008-05-29","s":"W","v":127.4},
{"d":"2008-06-01","s":"W","v":127.4},{"d":"2008-06-02","s":"W","v":122.9},{"d":"2008-06-04","s":"W","v":134.8},{"d":"2008-06-06","s":"W","v":135.9},{"d":"2008-06-08","s":"W","v":133.3},{"d":"2008-06-10","s":"W","v":134.8},{"d":"2008-06-13","s":"W","v":135.5},{"d":"2008-06-15","s":"W","v":136.3},{"d":"2008-06-18","s":"W","v":132.2},{"d":"2008-06-19","s":"W","v":135.5},{"d":"2008-06-22","s":"W","v":134.8},{"d":"2008-06-23","s":"W","v":135.9},{"d":"2008-06-26","s":"W","v":138.9},{"d":"2008-06-28","s":"W","v":140.4},{"d":"2008-06-30","s":"W","v":143.7},
{"d":"2008-07-02","s":"W","v":144.1},{"d":"2008-07-03","s":"W","v":145.3},{"d":"2008-07-07","s":"W","v":138.5},{"d":"2008-07-09","s":"W","v":140.7},{"d":"2008-07-10","s":"W","v":144.4},{"d":"2008-07-11","s":"W","v":145.2},{"d":"2008-07-14","s":"W","v":143},{"d":"2008-07-15","s":"W","v":139.3},{"d":"2008-07-16","s":"W","v":133.4},{"d":"2008-07-17","s":"W","v":131.1},{"d":"2008-07-18","s":"W","v":131.8},{"d":"2008-07-21","s":"W","v":128.1},{"d":"2008-07-22","s":"W","v":125.2},{"d":"2008-07-24","s":"W","v":124.4},{"d":"2008-07-25","s":"W","v":125.2},{"d":"2008-07-28","s":"W","v":122.6},{"d":"2008-07-29","s":"W","v":127.1},{"d":"2008-07-31","s":"W","v":124.4},
{"d":"2008-08-01","s":"W","v":123},{"d":"2008-08-04","s":"W","v":120.8},{"d":"2008-08-05","s":"W","v":118.9},{"d":"2008-08-07","s":"W","v":116.7},{"d":"2008-08-09","s":"W","v":115.5},{"d":"2008-08-11","s":"W","v":113.7},{"d":"2008-08-13","s":"W","v":114.1},{"d":"2008-08-15","s":"W","v":113.3},{"d":"2008-08-18","s":"W","v":112.9},{"d":"2008-08-19","s":"W","v":117.8},{"d":"2008-08-20","s":"W","v":115.9},{"d":"2008-08-22","s":"W","v":115.2},{"d":"2008-08-25","s":"W","v":115.2},{"d":"2008-08-26","s":"W","v":118.1},{"d":"2008-08-28","s":"W","v":115.5},{"d":"2008-08-29","s":"W","v":112.6},
{"d":"2008-09-02","s":"W","v":110.4},{"d":"2008-09-04","s":"W","v":107.4},{"d":"2008-09-05","s":"W","v":104.8},{"d":"2008-09-08","s":"W","v":102.6},{"d":"2008-09-10","s":"W","v":101.1},{"d":"2008-09-12","s":"W","v":101.1}
]},
"layer":[
{"transform":[{"filter":"datum.s != 'W'"}],
"mark":{"type":"line","strokeWidth":2.75,"strokeJoin":"round"},
"encoding":{
"x":{"field":"d","type":"temporal","scale":{"domain":[{"year":2007,"month":1,"date":1},{"year":2009,"month":1,"date":1}],"nice":false},
"axis":{"orient":"bottom","title":null,"grid":false,"tickCount":{"interval":"month","step":1},"labelExpr":"timeFormat(datum.value,'%b')","labelFlush":false,"labelOverlap":false,"tickSize":7,"labelPadding":14.5,"labelFontSize":20,"domainColor":"#808080","domainWidth":2}},
"y":{"field":"v","type":"quantitative","scale":{"domain":[100,440],"nice":false,"zero":false},
"axis":{"orient":"left","title":"Cents per Gallon","values":[100,120,140,160,180,200,220,240,260,280,300,320,340,360,380,400,420,440],"grid":true,"gridColor":{"condition":{"test":"datum.value == 440 || datum.value == 100","value":"#808080"},"value":"#000000"},"gridWidth":{"condition":{"test":"datum.value == 440","value":2},"value":1},"tickSize":7,"labelPadding":10,"domainWidth":1.5,"titleAngle":270,"titleBaseline":"bottom","titleAlign":"center","titleX":-58,"titleY":321}},
"color":{"field":"s","type":"nominal","scale":{"domain":["G","H","W"],"range":["#000080","#ff0000","#000000"]},
"legend":{"title":null,"orient":"none","legendX":4,"legendY":692,"direction":"horizontal","labelExpr":"datum.label == 'G' ? 'NYH Conventional Regular Gasoline' : datum.label == 'H' ? 'NYH No.2 Heating Oil' : 'WTI Crude Oil'"}},
"strokeDash":{"field":"s","type":"nominal","scale":{"domain":["G","H","W"],"range":[[1,0],[5,4],[18,10]]},
"legend":{"title":null,"orient":"none","legendX":4,"legendY":692,"direction":"horizontal","labelExpr":"datum.label == 'G' ? 'NYH Conventional Regular Gasoline' : datum.label == 'H' ? 'NYH No.2 Heating Oil' : 'WTI Crude Oil'"}}
}},
{"transform":[{"filter":"datum.s == 'W'"}],
"mark":{"type":"line","strokeWidth":2.75,"strokeJoin":"round"},
"encoding":{
"x":{"field":"d","type":"temporal","scale":{"domain":[{"year":2007,"month":1,"date":1},{"year":2009,"month":1,"date":1}],"nice":false},
"axis":{"orient":"bottom","title":null,"grid":false,"tickCount":{"interval":"year","step":1},"labelExpr":"timeFormat(datum.value,'%Y')","labelFlush":false,"labelOverlap":false,"ticks":false,"tickSize":0,"domain":false,"labelPadding":56,"labelFontSize":22}},
"y":{"field":"v","type":"quantitative","scale":{"domain":[42,184.8],"nice":false,"zero":false},
"axis":{"orient":"right","title":"Dollars per Barrel","values":[42,50.4,58.8,67.2,75.6,84,92.4,100.8,109.2,117.6,126,134.4,142.8,151.2,159.6,168,176.4,184.8],"format":".2f","grid":false,"tickSize":7,"labelPadding":9,"domainWidth":1.5,"titleAngle":270,"titleBaseline":"top","titleAlign":"center","titleX":107,"titleY":307}},
"color":{"field":"s","type":"nominal","scale":{"domain":["G","H","W"],"range":["#000080","#ff0000","#000000"]},
"legend":{"title":null,"orient":"none","legendX":4,"legendY":692,"direction":"horizontal","labelExpr":"datum.label == 'G' ? 'NYH Conventional Regular Gasoline' : datum.label == 'H' ? 'NYH No.2 Heating Oil' : 'WTI Crude Oil'"}},
"strokeDash":{"field":"s","type":"nominal","scale":{"domain":["G","H","W"],"range":[[1,0],[5,4],[18,10]]},
"legend":{"title":null,"orient":"none","legendX":4,"legendY":692,"direction":"horizontal","labelExpr":"datum.label == 'G' ? 'NYH Conventional Regular Gasoline' : datum.label == 'H' ? 'NYH No.2 Heating Oil' : 'WTI Crude Oil'"}}
}}
],
"resolve":{"scale":{"y":"independent"},"axis":{"x":"independent"}}
}
